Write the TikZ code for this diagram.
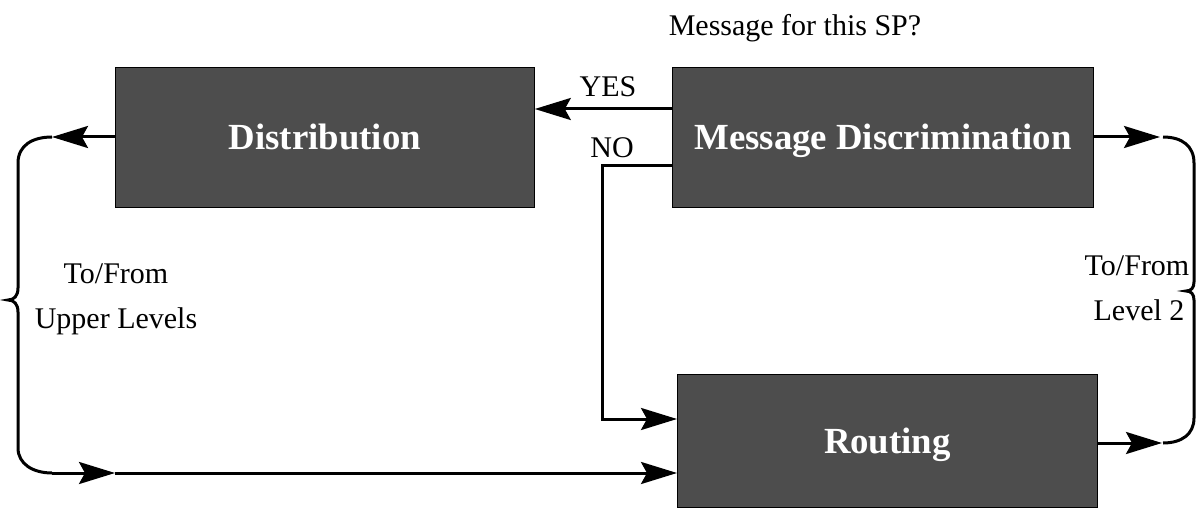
\documentclass[tikz,border=0pt]{standalone}
\usepackage{fontspec}
\setmainfont{Liberation Serif}
\usetikzlibrary{arrows.meta}
\definecolor{boxgray}{RGB}{77,77,77}
\begin{document}
\begin{tikzpicture}[x=1pt,y=-1pt,
  block/.style={draw=black,line width=0.8pt,fill=boxgray,text=white,
    font=\fontsize{36.8}{40}\selectfont\bfseries,inner sep=0pt,
    text height=25pt,text depth=0pt,anchor=north west},
  flow/.style={line width=3pt},
  tip/.style={-{Stealth[length=36pt,width=22pt,inset=6pt]}},
  lbl/.style={font=\fontsize{30}{34}\selectfont,inner sep=0pt}]
\useasboundingbox (0,0) rectangle (1200,508);

% blocks
\node[block,minimum width=419pt,minimum height=140pt] (dist) at (115,67) {Distribution};
\node[block,minimum width=421pt,minimum height=140pt] (md) at (672,67) {Message Discrimination};
\node[block,minimum width=420pt,minimum height=133pt] (rt) at (677,374) {Routing};

% labels
\node[lbl,anchor=base] (q) at (795,36) {Message for this SP?};
\node[lbl,anchor=base] (yes) at (608,97) {YES};
\node[lbl,anchor=base] (no) at (612,158) {NO};
\node[lbl,anchor=base] (tl1) at (116,283) {To/From};
\node[lbl,anchor=base] (tl2) at (116,328) {Upper Levels};
\node[lbl,anchor=base] (tr1) at (1137,275) {To/From};
\node[lbl,anchor=base] (tr2) at (1139,320) {Level 2};

% rows and turning points
\coordinate (yesrow) at (0,109);
\coordinate (norow) at (0,166);
\coordinate (nox) at (602,0);
\coordinate (rin) at (0,419);
\coordinate (rout) at (0,443);
\coordinate (ul) at (52,137);
\coordinate (bl) at (52,473);
\coordinate (bmid) at (115,473);
\coordinate (ur) at (1160,137);
\coordinate (urs) at (1163,137);
\coordinate (lr) at (1162,443);
\coordinate (lrs) at (1163,443);

% connectors between the blocks
\draw[flow,tip] (md.west|-yesrow) -- (dist.east|-yesrow);
\draw[flow,tip] (md.west|-norow) -| (nox|-rin) -- (rt.west|-rin);
\draw[flow,tip] (dist.west|-ul) -- (ul);
\draw[flow,tip] (bl) -- (bmid);
\draw[flow,tip] (bmid) -- (rt.west|-bmid);
\draw[flow,tip] (md.east|-ur) -- (ur);
\draw[flow,tip] (rt.east|-rout) -- (lr);

% left bracket: to/from upper levels
\draw[flow] (ul) .. controls (33,137) and (18,145) .. (18,163)
  -- (18,288) .. controls (18,296) and (14,300) .. (8,300)
  .. controls (14,300) and (18,304) .. (18,312)
  -- (18,448) .. controls (18,464) and (33,473) .. (bl);

% right bracket: to/from level 2
\draw[flow] (urs) .. controls (1182,137) and (1194,146) .. (1194,163)
  -- (1194,282) .. controls (1194,288) and (1191,291) .. (1186,291)
  .. controls (1191,291) and (1194,294) .. (1194,300)
  -- (1194,418) .. controls (1194,434) and (1182,443) .. (lrs);
\end{tikzpicture}
\end{document}
